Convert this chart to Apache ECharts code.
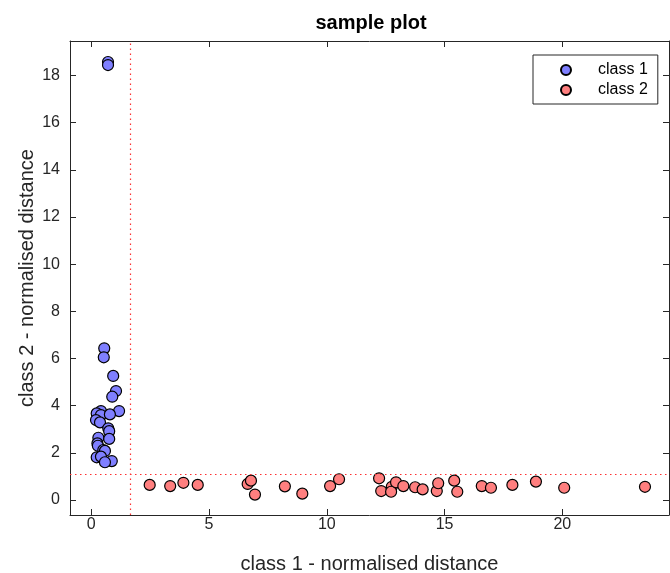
<!DOCTYPE html>
<html>
<head>
<meta charset="utf-8">
<script src="https://cdn.jsdelivr.net/npm/echarts@6/dist/echarts.min.js"></script>
<style>html,body{margin:0;padding:0;background:#fff}#chart{width:670px;height:573px}</style>
</head>
<body>
<div id="chart"></div>
<script>
const chartTitle = 'sample plot';
const xAxisTitle = 'class 1 - normalised distance';
const yAxisTitle = 'class 2 - normalised distance';
const seriesNames = ['class 1', 'class 2'];
const xTicks = [0, 5, 10, 15, 20];
const yTicks = [0, 2, 4, 6, 8, 10, 12, 14, 16, 18];
const xRange = [-0.904, 24.53];
const yRange = [-0.636, 19.46];
const thresholdX = 1.65;
const thresholdY = 1.10;

const class1Points = [
  [0.71, 18.57], [0.71, 18.44],
  [0.55, 6.43], [0.53, 6.05], [0.93, 5.26], [1.05, 4.62], [0.89, 4.38],
  [1.18, 3.77], [0.41, 3.77], [0.23, 3.67], [0.41, 3.60], [0.79, 3.63],
  [0.20, 3.39], [0.37, 3.29], [0.72, 3.04], [0.76, 2.92], [0.30, 2.64],
  [0.76, 2.59], [0.26, 2.40], [0.28, 2.30], [0.51, 2.12], [0.58, 2.08],
  [0.23, 1.81], [0.41, 1.84], [0.87, 1.65], [0.58, 1.60]
];
const class2Points = [
  [2.48, 0.64], [3.35, 0.59], [3.91, 0.73], [4.52, 0.64], [6.64, 0.68],
  [6.78, 0.82], [6.95, 0.23], [8.22, 0.58], [8.96, 0.27], [10.14, 0.59],
  [10.52, 0.88], [12.22, 0.92], [12.31, 0.38], [12.76, 0.56], [12.73, 0.35],
  [12.94, 0.75], [13.25, 0.59], [13.75, 0.54], [14.07, 0.45], [14.67, 0.38],
  [14.73, 0.71], [15.41, 0.82], [15.54, 0.35], [16.58, 0.59], [16.97, 0.52],
  [17.88, 0.64], [18.88, 0.78], [20.08, 0.52], [23.51, 0.56]
];

const FONT = "'Liberation Sans', Arial, Helvetica, sans-serif";
const AX = '#262626';

function makeAxis(dim, pos, range, ticks, showLabels, name) {
  const a = {
    type: 'value',
    position: pos,
    min: range[0],
    max: range[1],
    axisLine: { show: true, onZero: false, lineStyle: { color: AX, width: 1 } },
    axisTick: { show: true, inside: true, length: 6, customValues: ticks, lineStyle: { color: AX } },
    axisLabel: { show: showLabels, customValues: ticks, color: AX, fontFamily: FONT, fontSize: 16,
                 margin: dim === 'x' ? 2 : 10 },
    splitLine: { show: false }
  };
  if (name) {
    a.name = name;
    a.nameLocation = 'middle';
    a.nameMoveOverlap = false;
    a.nameGap = dim === 'x' ? 39 : 33;
    a.nameTextStyle = { color: AX, fontFamily: FONT, fontSize: 20 };
  }
  return a;
}

const chart = echarts.init(document.getElementById('chart'), null, { renderer: 'canvas' });
chart.setOption({
  backgroundColor: '#ffffff',
  animation: false,
  title: {
    text: chartTitle,
    left: 366,
    top: 8,
    textAlign: 'center',
    textStyle: { fontFamily: FONT, fontSize: 20, fontWeight: 'bold', color: '#000' }
  },
  grid: { left: 70, top: 41, width: 599, height: 474, outerBoundsMode: 'none', containLabel: false },
  legend: {
    orient: 'vertical',
    left: 533,
    top: 55,
    padding: [7, 10, 6, 27],
    itemWidth: 54,
    itemHeight: 10,
    itemGap: 4,
    borderColor: '#262626',
    borderWidth: 1,
    backgroundColor: '#fff',
    textStyle: { fontFamily: FONT, fontSize: 16, color: '#000', lineHeight: 16 },
    data: seriesNames.map(n => ({ name: n, icon: 'circle' }))
  },
  xAxis: [
    makeAxis('x', 'bottom', xRange, xTicks, true, xAxisTitle),
    makeAxis('x', 'top', xRange, xTicks, false, null)
  ],
  yAxis: [
    makeAxis('y', 'left', yRange, yTicks, true, yAxisTitle),
    makeAxis('y', 'right', yRange, yTicks, false, null)
  ],
  series: [
    {
      name: seriesNames[0],
      type: 'scatter',
      symbol: 'circle',
      symbolSize: 11,
      itemStyle: { color: '#7f7fff', borderColor: '#000', borderWidth: 1.2, opacity: 1 },
      data: class1Points,
      markLine: {
        silent: true,
        symbol: 'none',
        label: { show: false },
        lineStyle: { color: '#ff3030', type: [1.5, 3.5], width: 1.2 },
        data: [{ xAxis: thresholdX }, { yAxis: thresholdY }]
      }
    },
    {
      name: seriesNames[1],
      type: 'scatter',
      symbol: 'circle',
      symbolSize: 11,
      itemStyle: { color: '#ff7f7f', borderColor: '#000', borderWidth: 1.2, opacity: 1 },
      data: class2Points
    }
  ]
});
</script>
</body>
</html>
